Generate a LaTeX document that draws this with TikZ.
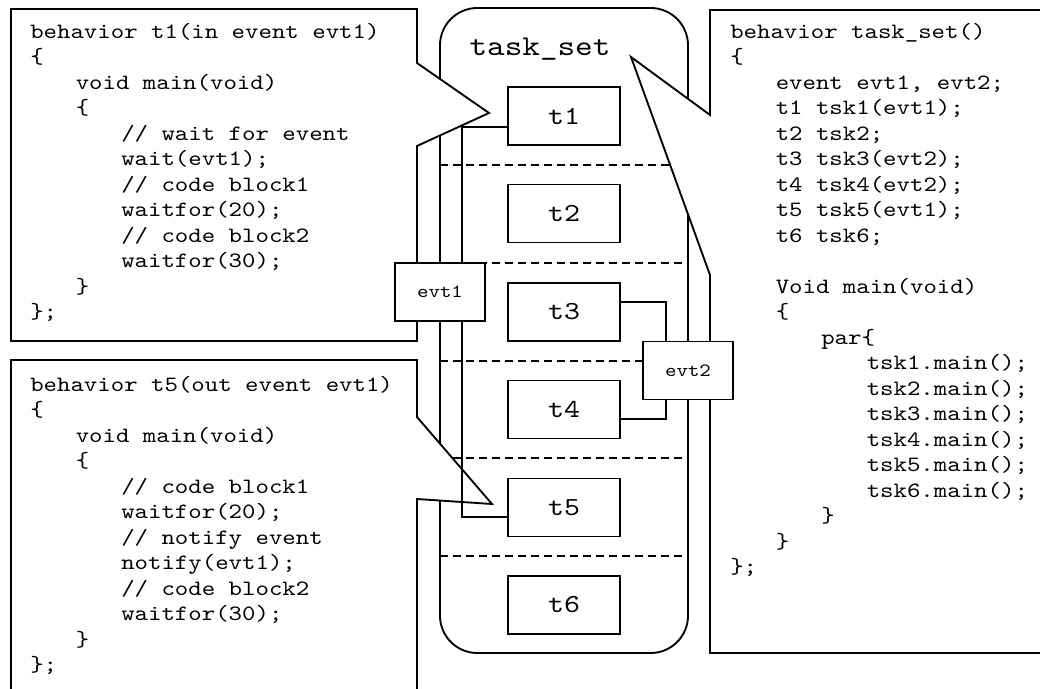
\documentclass[tikz,border=0pt]{standalone}
\usepackage{fontspec}
\newfontfamily\codefont{lmmono10-regular.otf}[FakeStretch=1.17]
\usetikzlibrary{calc}
\tikzset{
  ln/.style={line width=1.4pt},
  container/.style={draw, line width=1.4pt, rounded corners=28pt, minimum width=186pt, minimum height=483.75pt, inner sep=0pt},
  task/.style={draw, line width=1.4pt, fill=white, minimum width=84pt, minimum height=43.5pt, inner sep=0pt, font=\codefont\fontsize{19.5}{23}\selectfont},
  evtbox/.style={draw, line width=1.4pt, fill=white, minimum width=67.5pt, minimum height=43.5pt, inner sep=0pt, font=\codefont\fontsize{14}{16}\selectfont},
  code/.style={inner sep=0pt, anchor=base west, font=\codefont\fontsize{16.4}{19}\selectfont},
  sep/.style={line width=1.4pt, dash pattern=on 6pt off 3.75pt},
  callout/.style={draw, fill=white, line width=1.4pt, line join=miter},
}
\begin{document}
\begin{tikzpicture}[x=0.75pt,y=-0.75pt]
\useasboundingbox (0,0) rectangle (1040,689);
% container
\node[container] (ts) at (564,330.5) {};
\node[inner sep=0pt, anchor=base, font=\codefont\fontsize{21.5}{26}\selectfont] (tslabel) at (540,55) {task\_set};
% separators
\foreach \yy in {165,263,361,458,556}
  \draw[sep] (440,\yy) -- (688,\yy);
% callouts
\draw[callout] (11,9) -- (417,9) -- (417,63) -- (489,113) -- (417,146) -- (417,341) -- (11,341) -- cycle;
\draw[callout] (11,700) -- (11,360) -- (417,360) -- (417,417) -- (492,504) -- (417,499) -- (417,700);
\draw[callout] (1050,10) -- (710,10) -- (710,115) -- (631,57) -- (710,275) -- (710,653) -- (1050,653);
% code: top left
\foreach \l/\t [count=\i] in {0/{behavior t1(in event evt1)},0/{\{},1/{void main(void)},1/{\{},2/{// wait for event},2/{wait(evt1);},2/{// code block1},2/{waitfor(20);},2/{// code block2},2/{waitfor(30);},1/{\}},0/{\};}}
  \node[code] (a\i) at ({30+45.5*\l},{38+25.5*(\i-1)}) {\t};
% code: bottom left
\foreach \l/\t [count=\i] in {0/{behavior t5(out event evt1)},0/{\{},1/{void main(void)},1/{\{},2/{// code block1},2/{waitfor(20);},2/{// notify event},2/{notify(evt1);},2/{// code block2},2/{waitfor(30);},1/{\}},0/{\};}}
  \node[code] (b\i) at ({30+45.5*\l},{391+25.5*(\i-1)}) {\t};
% code: right
\foreach \n/\l/\t in {1/0/{behavior task\_set()},2/0/{\{},3/1/{event evt1, evt2;},4/1/{t1 tsk1(evt1);},5/1/{t2 tsk2;},6/1/{t3 tsk3(evt2);},7/1/{t4 tsk4(evt2);},8/1/{t5 tsk5(evt1);},9/1/{t6 tsk6;},11/1/{Void main(void)},12/1/{\{},13/2/{par\{},14/3/{tsk1.main();},15/3/{tsk2.main();},16/3/{tsk3.main();},17/3/{tsk4.main();},18/3/{tsk5.main();},19/3/{tsk6.main();},20/2/{\}},21/1/{\}},22/0/{\};}}
  \node[code] (r\n) at ({730+45.5*\l},{38+25.5*(\n-1)}) {\t};
% tasks
\node[task] (t1) at (564,116) {t1};
\node[task] (t2) at (564,213.5) {t2};
\node[task] (t3) at (564,312) {t3};
\node[task] (t4) at (564,409.5) {t4};
\node[task] (t5) at (564,507.5) {t5};
\node[task] (t6) at (564,605) {t6};
% events
\node[evtbox] (evt1) at (440,292) {evt1};
\node[evtbox] (evt2) at (688,370.5) {evt2};
% connectors
\coordinate (c1) at ($(t1.west)+(0,11)$);
\coordinate (c5) at ($(t5.west)+(0,9.5)$);
\coordinate (c3) at ($(t3.east)+(0,-10)$);
\coordinate (c4) at ($(t4.east)+(0,9.5)$);
\draw[ln] (c1) -| ($(evt1.north)+(22,0)$);
\draw[ln] ($(evt1.south)+(22,0)$) |- (c5);
\draw[ln] (c3) -| ($(evt2.north)+(-22,0)$);
\draw[ln] (c4) -| ($(evt2.south)+(-22,0)$);
\end{tikzpicture}
\end{document}
